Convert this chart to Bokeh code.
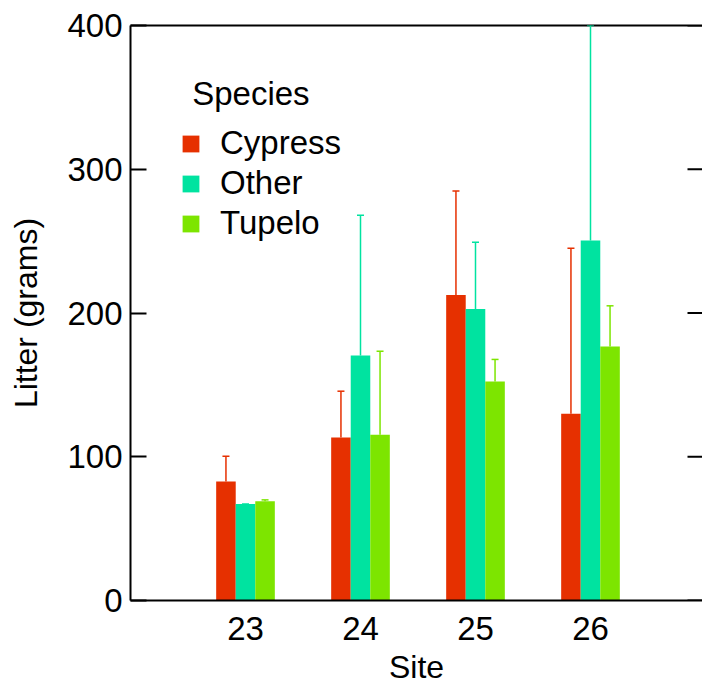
from bokeh.plotting import figure
from bokeh.models import (ColumnDataSource, Whisker, TeeHead, Legend, LegendItem,
                          LinearAxis, Range1d, FixedTicker, Label)
from bokeh.transform import dodge
from bokeh.embed import file_html
from bokeh.resources import INLINE

sites = [23, 24, 25, 26]
species = ["Cypress", "Other", "Tupelo"]
cypress = [82.8, 113.4, 212.6, 130.0]
other = [67.2, 170.4, 202.7, 250.4]
tupelo = [69.1, 115.3, 152.3, 176.7]
cypress_err = [100.4, 145.6, 284.8, 245.0]
other_err = [67.2, 268.0, 249.3, 400.0]
tupelo_err = [70.0, 173.4, 167.7, 205.0]
y_ticks = [0, 100, 200, 300, 400]
colors = ["#E63000", "#00E3A0", "#7DE500"]

FONT = "Liberation Sans"

FRAME_W, FRAME_H = 572, 575
PX_PER_X = 115.0
X0 = 22
X1 = X0 + FRAME_W / PX_PER_X

p = figure(width=702, height=689, frame_width=FRAME_W, frame_height=FRAME_H,
           x_range=Range1d(X0, X1), y_range=Range1d(0, 400),
           output_backend="svg", toolbar_location=None,
           x_axis_location=None, y_axis_location=None,
           min_border_left=130, min_border_top=25, min_border_right=0, min_border_bottom=0)
p.grid.visible = False
p.outline_line_color = None
p.background_fill_color = "white"

# axes
xax = LinearAxis(ticker=FixedTicker(ticks=sites), axis_label="Site")
yax = LinearAxis(ticker=FixedTicker(ticks=y_ticks), axis_label="Litter (grams)")
for ax in (xax, yax):
    ax.axis_line_width = 2
    ax.axis_line_color = "black"
    ax.major_label_text_font = FONT
    ax.major_label_text_color = "black"
    ax.major_label_text_font_size = "33px"
    ax.axis_label_text_font = FONT
    ax.axis_label_text_font_size = "32px"
    ax.axis_label_text_font_style = "normal"
    ax.axis_label_text_color = "black"
    ax.minor_tick_line_color = None
xax.major_tick_line_color = None
xax.major_tick_in = 0
xax.major_tick_out = 0
xax.major_label_standoff = 16
xax.axis_label_standoff = 6
yax.major_tick_in = 16
yax.major_tick_out = 0
yax.major_tick_line_width = 2
yax.major_tick_line_color = "black"
yax.major_label_standoff = 8
yax.axis_label_standoff = 20
p.add_layout(xax, "below")
p.add_layout(yax, "left")

tax = LinearAxis(ticker=FixedTicker(ticks=[]))
tax.axis_line_width = 2
tax.axis_line_color = "black"
tax.major_tick_line_color = None
tax.minor_tick_line_color = None
tax.major_tick_in = 0
tax.major_tick_out = 0
tax.major_label_text_font_size = "0px"
tax.major_label_standoff = 0
p.add_layout(tax, "above")

# inward tick marks on the right edge (no labels)
tick_len = 15 / PX_PER_X
p.segment(x0=[X1 - tick_len] * len(y_ticks), x1=[X1] * len(y_ticks),
          y0=y_ticks, y1=y_ticks, line_color="black", line_width=2)

src = ColumnDataSource(dict(site=sites, Cypress=cypress, Other=other, Tupelo=tupelo,
                            Cypress_err=cypress_err, Other_err=other_err, Tupelo_err=tupelo_err))

offsets = [-0.17, 0.0, 0.17]
bar_w = 0.17
items = []
for sp, off, col in zip(species, offsets, colors):
    r = p.vbar(x=dodge("site", off, range=p.x_range), top=sp, width=bar_w, source=src,
               fill_color=col, line_color=None)
    w = Whisker(source=src, base=dodge("site", off, range=p.x_range), lower=sp, upper=sp + "_err",
                line_color=col, line_width=1.5, lower_head=None,
                upper_head=TeeHead(size=7, line_color=col, line_width=1.5), level="overlay")
    p.add_layout(w)
    items.append(LegendItem(label=sp, renderers=[r]))

legend = Legend(items=items, location=(50, 358), padding=0, margin=0, spacing=2,
                glyph_width=21, glyph_height=21, label_standoff=19,
                label_text_font=FONT, label_text_font_size="33px", label_text_color="black",
                border_line_color=None, background_fill_alpha=0)
p.add_layout(legend)

title = Label(x=X0 + (191.7 - 130) / PX_PER_X, y=(600 - 93) / 1.4375, text="Species",
              text_font=FONT, text_font_size="33px", text_color="black", text_baseline="alphabetic")
p.add_layout(title)

open("out.html", "w").write(file_html(p, INLINE))
